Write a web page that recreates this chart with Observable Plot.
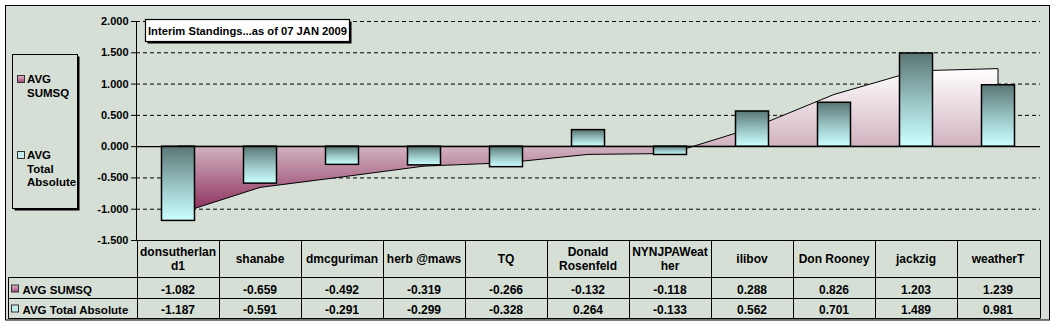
<!DOCTYPE html>
<html><head><meta charset="utf-8">
<script src="https://cdn.jsdelivr.net/npm/d3@7"></script>
<script src="https://cdn.jsdelivr.net/npm/@observablehq/plot@0.6"></script>
<style>
html,body{margin:0;padding:0;background:#fff;}
svg{display:block;}
</style>
</head><body><div id="chart"></div>
<script>
// ---- data ----
const categories = ["donsutherland1","shanabe","dmcguriman","herb @maws","TQ","Donald Rosenfeld","NYNJPAWeather","ilibov","Don Rooney","jackzig","weatherT"];
const avgSumsq = [-1.082,-0.659,-0.492,-0.319,-0.266,-0.132,-0.118,0.288,0.826,1.203,1.239];
const avgTotalAbsolute = [-1.187,-0.591,-0.291,-0.299,-0.328,0.264,-0.133,0.562,0.701,1.489,0.981];
const seriesNames = ["AVG SUMSQ","AVG Total Absolute"];
const legendLines = [["AVG","SUMSQ"],["AVG","Total","Absolute"]];
const yTicks = [-1.5,-1,-0.5,0,0.5,1,1.5,2];
const titleText = "Interim Standings...as of 07 JAN 2009";

const FONT = "'Liberation Sans', Arial, sans-serif";
const BG = "#d6dfd6";
const W = 1056, H = 326;
const data = categories.map((c, i) => ({name: c, sumsq: avgSumsq[i], abs: avgTotalAbsolute[i]}));
const fmt = d3.formatLocale({decimal: ".", thousands: ",", grouping: [3], currency: ["", ""], minus: "-"}).format(".3f");

const defs = () => {
  const d = d3.create("svg:defs");
  const ga = d.append("linearGradient").attr("id","gArea").attr("x1",0).attr("y1",0).attr("x2",0).attr("y2",1);
  ga.append("stop").attr("offset","0").attr("stop-color","#ffffff");
  ga.append("stop").attr("offset","0.534").attr("stop-color","#d2b3c0");
  ga.append("stop").attr("offset","1").attr("stop-color","#8a2a5a");
  const gb = d.append("linearGradient").attr("id","gBar").attr("x1",0).attr("y1",0).attr("x2",0).attr("y2",1);
  gb.append("stop").attr("offset","0").attr("stop-color","#5a7674");
  gb.append("stop").attr("offset","0.55").attr("stop-color","#9cc8c8");
  gb.append("stop").attr("offset","1").attr("stop-color","#ccffff");
  const gm = d.append("linearGradient").attr("id","gMark1").attr("x1",0).attr("y1",0).attr("x2",0).attr("y2",1);
  gm.append("stop").attr("offset","0").attr("stop-color","#e0b8cc");
  gm.append("stop").attr("offset","1").attr("stop-color","#a04474");
  return d.node();
};

const plot = Plot.plot({
  width: W, height: H,
  marginLeft: 136, marginRight: 16, marginTop: 21, marginBottom: 86,
  style: {background: "transparent", fontFamily: FONT, fontWeight: "bold", fontSize: "11px", color: "#000", overflow: "visible"},
  x: {domain: categories, padding: 0, axis: null},
  y: {domain: [-1.5, 2], ticks: yTicks, tickFormat: fmt, tickSize: 5, tickPadding: 3, line: true, label: null},
  marks: [
    defs,
    Plot.ruleY(yTicks.filter(v => v !== 0 && v !== -1.5), {stroke: "#000", strokeDasharray: "4,3", strokeWidth: 1}),
    Plot.areaY(data, {x: "name", y: "sumsq", fill: "url(#gArea)", stroke: "#000", strokeWidth: 1}),
    Plot.barY(data, {x: "name", y: "abs", fill: "url(#gBar)", stroke: "#000", strokeWidth: 1.5, insetLeft: 24.5, insetRight: 24.5}),
    Plot.ruleY([0], {stroke: "#000", strokeWidth: 1.2})
  ]
});

const svg = d3.select(plot);
// y-axis text styling
svg.selectAll("g[aria-label^='y-axis'] text, g[aria-label^='y-axis']")
  .attr("font-size", 11).attr("font-weight", "bold").attr("font-family", FONT);
// background frame behind everything
svg.insert("rect", ":first-child")
  .attr("x", 5.5).attr("y", 5.5).attr("width", 1044).attr("height", 314.5)
  .attr("fill", BG).attr("stroke", "#000").attr("stroke-width", 1);

const xs = plot.scale("x");
const bw = xs.bandwidth;
const x0 = xs.range[0], x1 = xs.range[1];
const yScale = plot.scale("y");
const tableTop = yScale.apply(-1.5);
const headBot = tableTop + 37, row1Bot = headBot + 21, row2Bot = row1Bot + 20.5;
const labelLeft = 8.5;
const g = svg.append("g").attr("font-family", FONT).attr("font-weight", "bold").attr("fill", "#000");

// table lines
const line = (a, b, c, d) => g.append("line").attr("x1", a).attr("y1", b).attr("x2", c).attr("y2", d).attr("stroke", "#000").attr("stroke-width", 1);
line(x0, tableTop + 0.5, x1, tableTop + 0.5);
line(labelLeft, headBot + 0.5, x1, headBot + 0.5);
line(labelLeft, row1Bot + 0.5, x1, row1Bot + 0.5);
line(labelLeft, row2Bot, x1, row2Bot);
line(labelLeft, headBot, labelLeft, row2Bot);
categories.forEach(c => line(Math.round(xs.apply(c)) + 0.5, tableTop, Math.round(xs.apply(c)) + 0.5, row2Bot));
line(Math.round(x1) + 0.5, tableTop, Math.round(x1) + 0.5, row2Bot);

// wrap header labels by measured width
const ctx = document.createElement("canvas").getContext("2d");
ctx.font = "bold 12px " + FONT;
const maxW = bw - 4;
function wrap(s) {
  const words = s.split(" ");
  const lines = [];
  let cur = "";
  for (const w of words) {
    const cand = cur ? cur + " " + w : w;
    if (ctx.measureText(cand).width <= maxW) { cur = cand; continue; }
    if (cur) { lines.push(cur); cur = ""; }
    let part = "";
    for (const ch of w) {
      if (ctx.measureText(part + ch).width > maxW && part) { lines.push(part); part = ch; }
      else part += ch;
    }
    cur = part;
  }
  if (cur) lines.push(cur);
  return lines;
}
categories.forEach(c => {
  const cx = xs.apply(c) + bw / 2;
  const lines = wrap(c);
  const mid = (tableTop + headBot) / 2;
  const lh = 13.5;
  const t = g.append("text").attr("text-anchor", "middle").attr("font-size", 12);
  lines.forEach((l, i) => {
    t.append("tspan").attr("x", cx).attr("y", mid + 4.5 + (i - (lines.length - 1) / 2) * lh).text(l);
  });
});
// values
const rows = [avgSumsq, avgTotalAbsolute];
rows.forEach((arr, r) => {
  const base = r === 0 ? headBot + 16.5 : row1Bot + 15.5;
  categories.forEach((c, i) => {
    g.append("text").attr("text-anchor", "middle").attr("font-size", 12)
      .attr("x", xs.apply(c) + bw / 2).attr("y", base).text(fmt(arr[i]));
  });
  // row labels
  g.append("rect").attr("x", 11.5).attr("y", base - 8.5).attr("width", 7).attr("height", 7)
    .attr("fill", r === 0 ? "url(#gMark1)" : "#c4eeee").attr("stroke", "#333").attr("stroke-width", 1);
  g.append("text").attr("text-anchor", "start").attr("x", 22.5).attr("y", base).attr("font-size", 11.5).text(seriesNames[r]);
});

// legend box
const lg = svg.append("g").attr("font-family", FONT).attr("font-weight", "bold").attr("text-anchor", "start");
lg.append("rect").attr("x", 14.5).attr("y", 56.5).attr("width", 65).attr("height", 154).attr("fill", "#000");
lg.append("rect").attr("x", 12.5).attr("y", 54.5).attr("width", 65).attr("height", 154).attr("fill", BG).attr("stroke", "#000");
const legY = [83, 159];
legendLines.forEach((lines, k) => {
  lg.append("rect").attr("x", 17.5).attr("y", legY[k] - 7.5).attr("width", 7).attr("height", 7)
    .attr("fill", k === 0 ? "url(#gMark1)" : "#c4eeee").attr("stroke", "#333");
  lines.forEach((l, i) => {
    lg.append("text").attr("text-anchor", "start").attr("x", 27).attr("y", legY[k] + i * 13.5).attr("font-size", 11.5).text(l);
  });
});

// title box
const tg = svg.append("g").attr("font-family", FONT).attr("font-weight", "bold");
tg.append("rect").attr("x", 147.5).attr("y", 21.5).attr("width", 204).attr("height", 22).attr("fill", "#000");
tg.append("rect").attr("x", 145.5).attr("y", 19.5).attr("width", 204).attr("height", 22).attr("fill", "#fff").attr("stroke", "#000").attr("stroke-width", 1.2);
tg.append("text").attr("x", 247.5).attr("y", 35).attr("text-anchor", "middle").attr("font-size", 11.2).text(titleText);

document.getElementById("chart").appendChild(plot);
</script>
</body></html>
